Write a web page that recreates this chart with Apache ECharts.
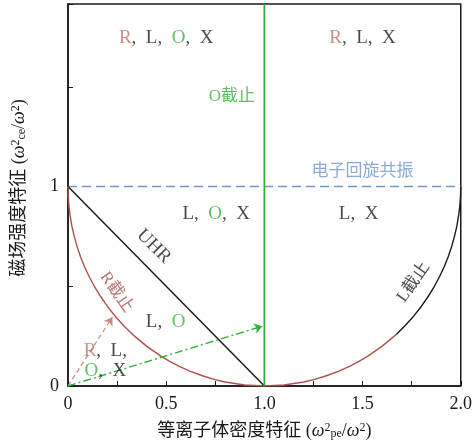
<!DOCTYPE html>
<html><head><meta charset="utf-8">
<script src="https://cdn.jsdelivr.net/npm/echarts/dist/echarts.min.js"></script>
<style>html,body{margin:0;padding:0;background:#fff}#c{width:475px;height:445px}</style>
</head><body><div id="c"></div>
<script>
// Data
const ecrLine = [[0, 1], [2, 1]];                 // electron cyclotron resonance
const uhrLine = [[0, 1], [1, 0]];                 // UHR
const oCutoffLine = [[1, 0], [1, 1.915]];         // O cutoff
const rCutoff = [[0,1],[0.001,0.955],[0.005,0.9],[0.01,0.86],[0.02,0.8],[0.032,0.75],[0.046,0.7],[0.063,0.65],[0.083,0.6],[0.107,0.55],[0.134,0.5],[0.165,0.45],[0.2,0.4],[0.24,0.35],[0.286,0.3],[0.339,0.25],[0.4,0.2],[0.473,0.15],[0.516,0.125],[0.564,0.1],[0.62,0.075],[0.688,0.05],[0.749,0.032],[0.8,0.02],[0.9,0.005],[1,0]];
const lCutoffLow = [[1,0],[1.1,0.005],[1.2,0.02],[1.251,0.032],[1.312,0.05],[1.38,0.075],[1.436,0.1],[1.484,0.125],[1.527,0.15],[1.6,0.2],[1.661,0.25],[1.673,0.26]];
const lCutoffHigh = [[1.673,0.26],[1.714,0.3],[1.76,0.35],[1.8,0.4],[1.835,0.45],[1.866,0.5],[1.893,0.55],[1.917,0.6],[1.937,0.65],[1.954,0.7],[1.968,0.75],[1.98,0.8],[1.99,0.86],[1.995,0.9],[1.999,0.955],[2,1]];
const redArrow = [[0, 0], [0.226, 0.345]];
const greenArrow = [[0, 0], [0.99, 0.3]];
const annotationText = ['{r|R},  L,  {o|O},  X', '{r|R},  L,  X', '{g|O截止}', '{b|电子回旋共振}', 'L,  {o|O},  X', 'L,  X', 'UHR', '{rc|R截止}', 'L,  {o|O}', '{r|R},  L,', '{o|O},  X', 'L截止'];
const annotationPos = [[0.5,1.745],[1.5,1.745],[0.835,1.45],[1.5,1.075],[0.755,0.864],[1.48,0.864],[0.437,0.70],[0.246,0.47],[0.497,0.32],[0.19,0.175],[0.19,0.075],[1.76,0.52]];
const annotationRotate = [0,0,0,0,0,0,-45,-55,0,0,0,55];
const xTickLabels = {0: '0', 0.5: '0.5', 1: '1.0', 1.5: '1.5', 2: '2.0'};
const yTickLabels = {0: '0', 1: '1'};

const SERIF = '"Liberation Serif", "Noto Sans CJK SC", serif';
const BROWN = '#a9524e';
const RLABEL = '#b87470';
const GREEN = '#34b03a';
const BLUE = '#6f95c9';
const INK = '#1a1a1a';

const richBase = {
  r: {color: RLABEL, fontFamily: SERIF, fontSize: 19},
  o: {color: GREEN, fontFamily: SERIF, fontSize: 19},
  g: {color: GREEN, fontFamily: SERIF, fontSize: 17},
  b: {color: BLUE, fontFamily: SERIF, fontSize: 17},
  rc: {color: BROWN, fontFamily: SERIF, fontSize: 17}
};

const annData = annotationText.map((t, i) => ({
  value: annotationPos[i],
  label: {show: true, formatter: t, rotate: annotationRotate[i],
          fontSize: t === 'L截止' ? 17 : 19}
}));

const axisRich = {
  w: {fontFamily: SERIF, fontStyle: 'italic', fontSize: 18, color: INK},
  sp: {fontFamily: SERIF, fontSize: 12, verticalAlign: 'top', color: INK, padding: [0,0,6,0]},
  sb: {fontFamily: SERIF, fontSize: 12, verticalAlign: 'bottom', color: INK, padding: [6,0,0,0]},
  t: {fontFamily: SERIF, fontSize: 18, color: INK}
};

function lineSeries(data, color, width, type) {
  return {type: 'line', data: data, showSymbol: false, symbol: 'none', silent: true,
          lineStyle: {color: color, width: width, type: type || 'solid'}, z: 3};
}

const chart = echarts.init(document.getElementById('c'), null, {renderer: 'canvas'});
chart.setOption({
  animation: false,
  grid: {left: 68, right: 10, top: 4, bottom: 58, show: true, borderColor: INK, borderWidth: 1.5, containLabel: false},
  xAxis: {
    type: 'value', min: 0, max: 2, interval: 0.25,
    axisLine: {lineStyle: {color: INK, width: 1.5}},
    axisTick: {inside: true, length: 5, lineStyle: {color: INK}},
    splitLine: {show: false},
    axisLabel: {color: INK, fontFamily: SERIF, fontSize: 18, margin: 9,
      formatter: v => (xTickLabels[v] !== undefined ? xTickLabels[v] : '')},
    name: '{t|等离子体密度特征 (}{w|ω}{sp|2}{sb|pe}{t|/}{w|ω}{sp|2}{t|)}',
    nameLocation: 'middle', nameGap: 36,
    nameTextStyle: {rich: axisRich, fontFamily: SERIF, fontSize: 18, color: INK}
  },
  yAxis: {
    type: 'value', min: 0, max: 1.915, interval: 0.5,
    axisLine: {lineStyle: {color: INK, width: 1.5}},
    axisTick: {inside: true, length: 5, lineStyle: {color: INK}},
    splitLine: {show: false},
    axisLabel: {color: INK, fontFamily: SERIF, fontSize: 18, margin: 9,
      formatter: v => (yTickLabels[v] !== undefined ? yTickLabels[v] : '')},
    name: '{t|磁场强度特征 (}{w|ω}{sp|2}{sb|ce}{t|/}{w|ω}{sp|2}{t|)}',
    nameLocation: 'middle', nameGap: 40, nameRotate: 90,
    nameTextStyle: {rich: axisRich, fontFamily: SERIF, fontSize: 18, color: INK, padding: [0, 0, 0, 14]}
  },
  series: [
    lineSeries(ecrLine, BLUE, 1.3, [9, 5]),
    lineSeries(uhrLine, INK, 1.5),
    lineSeries(rCutoff, BROWN, 1.4),
    lineSeries(lCutoffLow, BROWN, 1.4),
    lineSeries(lCutoffHigh, INK, 1.4),
    lineSeries(oCutoffLine, GREEN, 1.8),
    {
      type: 'line', data: [], silent: true,
      markLine: {
        silent: true, animation: false, symbol: ['none', 'arrow'], symbolSize: 8,
        label: {show: false},
        data: [
          [{coord: redArrow[0], lineStyle: {color: '#c98985', width: 1.2, type: [5, 3]}}, {coord: redArrow[1]}],
          [{coord: greenArrow[0], lineStyle: {color: GREEN, width: 1.4, type: [8, 3, 2, 3]}}, {coord: greenArrow[1]}]
        ]
      }
    },
    {
      type: 'scatter', symbolSize: 0, silent: true, z: 5,
      data: annData,
      label: {show: true, position: 'inside', color: INK, fontFamily: SERIF, fontSize: 19, rich: richBase}
    }
  ]
});
</script></body></html>
